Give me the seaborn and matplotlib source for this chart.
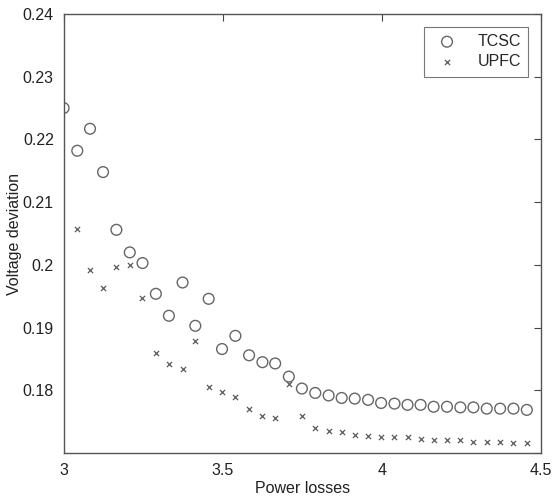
import numpy as np
import pandas as pd
import matplotlib
matplotlib.use("Agg")
import matplotlib.pyplot as plt
import seaborn as sns

power_losses = [3.000, 3.043, 3.083, 3.124, 3.166, 3.208, 3.248, 3.290, 3.331, 3.374,
                3.414, 3.456, 3.498, 3.540, 3.583, 3.625, 3.665, 3.708, 3.749, 3.791,
                3.833, 3.874, 3.915, 3.957, 3.998, 4.040, 4.081, 4.122, 4.163, 4.205,
                4.247, 4.288, 4.330, 4.372, 4.414, 4.456]
tcsc = [0.2250, 0.2182, 0.2217, 0.2148, 0.2056, 0.2020, 0.2003, 0.1954, 0.1919, 0.1972,
        0.1903, 0.1946, 0.1866, 0.1887, 0.1856, 0.1845, 0.1843, 0.1822, 0.1803, 0.1796,
        0.1792, 0.1788, 0.1787, 0.1785, 0.1780, 0.1779, 0.1777, 0.1777, 0.1774, 0.1774,
        0.1773, 0.1773, 0.1771, 0.1771, 0.1771, 0.1769]
upfc_losses = power_losses[1:]
upfc = [0.2058, 0.1992, 0.1963, 0.1996, 0.2000, 0.1947, 0.1859, 0.1842, 0.1834, 0.1878,
        0.1806, 0.1798, 0.1790, 0.1771, 0.1760, 0.1756, 0.1810, 0.1760, 0.1740, 0.1736,
        0.1733, 0.1729, 0.1727, 0.1726, 0.1725, 0.1725, 0.1722, 0.1721, 0.1721, 0.1721,
        0.1718, 0.1718, 0.1718, 0.1716, 0.1716]
x_ticks = [3, 3.5, 4, 4.5]
x_tick_labels = ["3", "3.5", "4", "4.5"]
y_ticks = [0.17, 0.18, 0.19, 0.20, 0.21, 0.22, 0.23, 0.24]
y_tick_labels = ["", "0.18", "0.19", "0.2", "0.21", "0.22", "0.23", "0.24"]

sns.set_style("white")
plt.rcParams['font.family'] = ['Liberation Sans', 'DejaVu Sans']

df_t = pd.DataFrame({"x": power_losses, "y": tcsc})
df_u = pd.DataFrame({"x": upfc_losses, "y": upfc})

fig = plt.figure(figsize=(5.53, 4.98), dpi=100)
ax = fig.add_axes([0.115, 0.09, 0.863, 0.882])

sns.scatterplot(data=df_t, x="x", y="y", ax=ax, marker="o", s=60,
                facecolors="none", edgecolor="#666666", linewidth=1.0, label="TCSC")
sns.scatterplot(data=df_u, x="x", y="y", ax=ax, marker="x", s=14,
                color="#5a5a5a", linewidth=0.9, label="UPFC")

fs = 11.5
ax.set_xlim(3, 4.5)
ax.set_ylim(0.17, 0.24)
ax.set_xticks(x_ticks)
ax.set_xticklabels(x_tick_labels)
ax.set_yticks(y_ticks)
ax.set_yticklabels(y_tick_labels)
ax.set_xlabel("Power losses", fontsize=fs, color="#222222", labelpad=2)
ax.set_ylabel("Voltage deviation", fontsize=fs, color="#222222")
ax.yaxis.set_label_coords(-0.088, 0.5)
ax.tick_params(direction="in", length=5, width=0.8, colors="#444444",
               labelcolor="#222222", labelsize=fs, top=True, right=True, pad=7)
for sp in ax.spines.values():
    sp.set_visible(True)
    sp.set_color("#555555")
    sp.set_linewidth(1.0)

leg = ax.legend(loc="upper right", frameon=True, fancybox=False, fontsize=fs,
                borderaxespad=0.8, handletextpad=0.9, borderpad=0.45,
                labelspacing=0.35)
leg.get_frame().set_edgecolor("#555555")
leg.get_frame().set_linewidth(0.8)

fig.savefig("out.png", dpi=100)
